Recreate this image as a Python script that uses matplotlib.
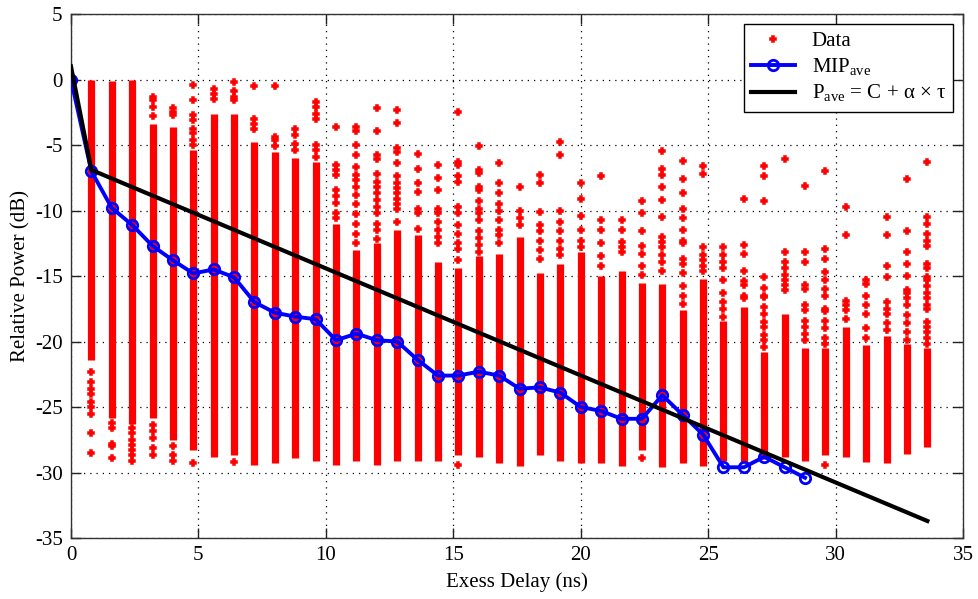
import numpy as np
import matplotlib.pyplot as plt

plt.rcParams['font.family'] = 'Liberation Serif'
plt.rcParams['mathtext.fontset'] = 'custom'
plt.rcParams['mathtext.rm'] = 'Liberation Serif'
plt.rcParams['axes.unicode_minus'] = False

# delay bins (ns)
tau = [0.0, 0.8, 1.6, 2.4, 3.2, 4.0, 4.8, 5.6, 6.4, 7.2, 8.0, 8.8, 9.6, 10.4,
       11.2, 12.0, 12.8, 13.6, 14.4, 15.2, 16.0, 16.8, 17.6, 18.4, 19.2, 20.0,
       20.8, 21.6, 22.4, 23.2, 24.0, 24.8, 25.6, 26.4, 27.2, 28.0, 28.8, 29.6,
       30.4, 31.2, 32.0, 32.8, 33.6]

# measured taps: densely populated range of each bin (dB)
dense_top = [np.nan, 0.0, -0.1, 0.0, -3.4, -3.6, -5.4, -2.6, -2.6, -4.8, -5.5,
             -6.0, -6.3, -11.0, -13.0, -12.5, -11.5, -11.9, -13.9, -14.4, -13.5,
             -13.3, -12.0, -14.8, -14.1, -13.2, -15.0, -14.6, -15.5, -15.6, -17.6,
             -15.2, -18.4, -17.4, -20.8, -17.9, -20.5, -20.5, -18.9, -20.3, -19.6,
             -20.2, -20.5]
dense_bot = [np.nan, -21.4, -25.8, -26.3, -25.8, -27.5, -28.3, -28.8, -28.7, -29.4,
             -29.3, -28.9, -29.1, -29.4, -29.1, -29.4, -29.1, -29.1, -29.1, -28.7,
             -28.8, -29.3, -29.5, -28.7, -29.1, -29.3, -29.3, -29.5, -28.3, -29.6,
             -29.3, -29.5, -29.1, -29.3, -29.0, -28.8, -29.1, -28.7, -28.8, -29.2,
             -29.3, -28.6, -28.05]

# isolated taps outside the dense range of each bin (dB)
sparse = [
    [0.0],
    [-22.3, -23.1, -23.6, -24.0, -24.6, -25.0, -25.5, -27.0, -28.5],
    [-26.2, -26.6, -27.8, -28.0, -28.9],
    [-26.6, -27.0, -27.5, -27.9, -28.3, -28.7, -29.1],
    [-1.3, -1.6, -2.1, -2.8, -26.4, -26.8, -27.4, -28.1, -28.7],
    [-2.2, -2.5, -2.7, -28.0, -28.7, -29.1],
    [-0.4, -1.6, -2.7, -3.1, -3.75, -4.1, -4.6, -5.0, -29.3],
    [-0.7, -1.1, -1.5],
    [-0.2, -0.9, -1.3, -1.6, -29.2],
    [-0.5, -3.0, -3.4, -3.75],
    [-0.5, -4.4, -4.6, -5.1],
    [-3.75, -4.25, -4.9, -5.4],
    [-1.7, -2.1, -2.6, -3.0, -5.0, -5.4, -5.9],
    [-3.6, -6.5, -6.9, -7.3, -8.4, -8.9, -9.4, -10.2, -10.6],
    [-3.6, -3.9, -5.0, -5.8, -6.7, -7.3, -7.7, -8.2, -8.8, -9.5, -10.3, -11.0,
     -11.8, -12.5],
    [-2.2, -3.9, -5.8, -6.1, -7.2, -7.8, -8.2, -8.7, -9.2, -9.7, -10.2, -11.0,
     -11.5, -12.2],
    [-2.3, -3.3, -5.25, -5.5, -6.4, -7.4, -7.9, -8.3, -8.7, -9.1, -9.5, -9.9, -10.9],
    [-5.7, -6.8, -7.9, -8.6, -9.85, -10.2, -11.4],
    [-6.5, -7.5, -8.4, -9.85, -10.2, -10.9, -11.5, -12.0, -12.5],
    [-2.5, -6.3, -6.55, -7.4, -7.8, -9.7, -10.2, -11.1, -11.8, -12.5, -12.9,
     -13.8, -29.4],
    [-5.1, -6.9, -7.1, -8.2, -8.45, -9.3, -9.85, -10.2, -10.7, -11.6, -12.1,
     -12.6, -13.2],
    [-6.4, -7.9, -8.7, -9.5, -10.0, -10.7, -11.5, -11.9, -12.5],
    [-8.2, -10.0, -10.6, -11.1],
    [-7.3, -7.9, -10.1, -11.1, -11.6, -12.3, -13.0, -13.7],
    [-4.8, -5.8, -10.0, -10.9, -11.6, -12.3, -12.9, -13.4],
    [-7.9, -9.1, -10.4, -11.5, -12.3, -12.8],
    [-7.35, -10.7, -11.5, -12.5, -13.5, -14.2],
    [-10.7, -11.5, -12.4, -12.8, -13.2],
    [-9.3, -10.2, -11.6, -12.7, -13.3, -14.2, -14.9, -28.9],
    [-5.45, -6.8, -7.3, -8.2, -9.2, -10.5, -12.0, -12.4, -12.8, -13.4, -13.9, -14.6],
    [-6.25, -7.6, -8.7, -9.85, -10.6, -11.5, -12.3, -12.5, -13.7, -14.1, -14.8,
     -15.8, -16.5, -17.1],
    [-6.6, -7.2, -12.8, -13.4, -13.8, -14.2, -14.6],
    [-12.8, -13.4, -13.9, -14.4, -15.3, -16.3, -17.0, -17.5, -18.1],
    [-9.1, -12.6, -13.3, -14.6, -15.4, -15.7, -16.5, -16.7],
    [-6.6, -7.35, -9.3, -15.1, -15.9, -16.5, -16.6, -17.4, -17.9, -18.5, -18.9,
     -19.5, -19.9, -20.4],
    [-6.1, -13.2, -13.9, -14.4, -14.9, -15.3, -15.7, -16.1],
    [-8.1, -13.2, -13.9, -15.7, -16.0, -17.2, -17.6, -18.4, -18.9, -19.4, -19.9],
    [-6.97, -12.9, -13.7, -14.7, -15.3, -16.0, -16.5, -17.5, -17.7, -18.4, -19.0,
     -19.7, -20.2, -29.45],
    [-9.7, -11.9, -16.9, -17.2, -17.6, -18.3],
    [-15.3, -15.6, -16.5, -17.2, -17.9, -19.0, -19.7],
    [-10.5, -11.9, -14.2, -15.1, -17.0, -17.5, -17.9, -18.6, -19.1],
    [-7.6, -11.6, -13.2, -14.1, -15.0, -16.1, -16.3, -16.7, -17.2, -18.0, -18.6,
     -19.3, -19.9],
    [-6.3, -10.5, -11.0, -11.8, -12.3, -12.7, -14.1, -14.4, -15.1, -15.3, -15.8,
     -16.3, -16.7, -17.2, -17.5, -18.5, -18.9, -19.3, -19.7, -20.2],
]

# averaged multipath intensity profile (dB)
mip = [0.0, -7.0, -9.8, -11.1, -12.7, -13.8, -14.8, -14.5, -15.1, -17.0, -17.8,
       -18.1, -18.3, -19.9, -19.4, -19.9, -20.0, -21.4, -22.6, -22.6, -22.3,
       -22.6, -23.6, -23.5, -23.9, -25.0, -25.3, -25.9, -25.9, -24.1, -25.6,
       -27.1, -29.6, -29.6, -28.8, -29.6, -30.4]

# piecewise linear fit P = C + alpha*tau
fit_tau = [0.0, 0.8, 33.6]
fit_p = [1.0, -6.9, -33.7]

fig = plt.figure(figsize=(9.79, 5.99), dpi=100)
ax = fig.add_axes([0.0725, 0.1018, 0.9112, 0.8748])

xs = np.array(tau)
top = np.array(dense_top)
bot = np.array(dense_bot)
ok = ~np.isnan(top)
ax.vlines(xs[ok], bot[ok], top[ok], colors='red', linewidth=5.2, zorder=2)

sx = [t for t, col in zip(tau, sparse) for _ in col]
sy = [v for col in sparse for v in col]
ax.plot(sx, sy, 'P', color='red', markersize=5.0, markeredgewidth=1.1,
        markeredgecolor='red', linestyle='none', label='Data', zorder=2)

ax.plot(tau[:len(mip)], mip, '-o', color='blue', linewidth=2.8,
        markersize=7.5, markerfacecolor='none', markeredgewidth=2.0,
        label=r'MIP$_{\mathrm{ave}}$', zorder=3)
ax.plot(fit_tau, fit_p, '-', color='black', linewidth=3.0,
        label=r'P$_{\mathrm{ave}}$ = C + α × τ', zorder=4)

ax.set_xlim(0, 35)
ax.set_ylim(-35, 5)
ax.set_xticks(np.arange(0, 36, 5))
ax.set_yticks(np.arange(-35, 6, 5))
ax.grid(True, color='black', linestyle=(0, (1, 4)), linewidth=0.9)
ax.set_axisbelow(True)
ax.tick_params(direction='in', length=7, width=1, top=True, right=True,
               labelsize=15, pad=6, colors='#222222', labelcolor='black')
for sp in ax.spines.values():
    sp.set_color('#333333')
    sp.set_linewidth(1.0)

ax.set_xlabel('Exess Delay (ns)', fontsize=15, labelpad=5)
ax.set_ylabel('Relative Power (dB)', fontsize=15, labelpad=3)

leg = ax.legend(loc='upper right', bbox_to_anchor=(0.989, 0.981),
                borderaxespad=0, numpoints=1, fontsize=15, fancybox=False,
                framealpha=1, edgecolor='black', handlelength=2.1,
                labelspacing=0.25, borderpad=0.35, handletextpad=0.8)
leg.get_frame().set_linewidth(1.0)

fig.savefig('out.png', dpi=100)
